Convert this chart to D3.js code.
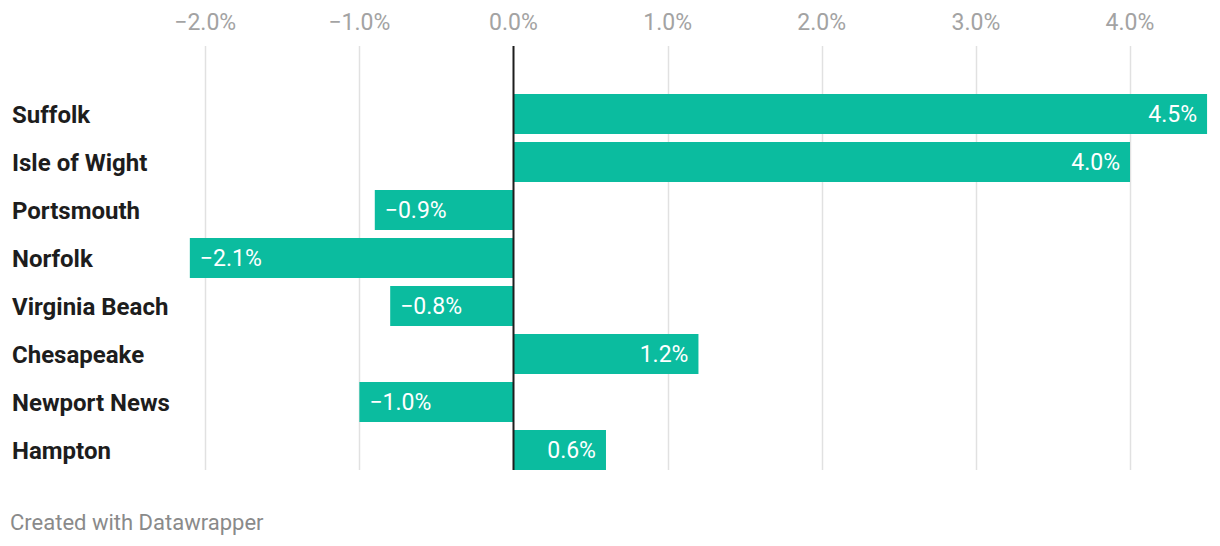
<!DOCTYPE html>
<html>
<head>
<meta charset="utf-8">
<script src="https://cdn.jsdelivr.net/npm/d3@7"></script>
<style>
  html, body { margin: 0; padding: 0; background: #fff; }
  svg { display: block; font-family: Roboto, "Noto Sans", sans-serif; }
</style>
</head>
<body>
<svg id="chart" width="1220" height="546"></svg>
<script>
const categories = ["Suffolk", "Isle of Wight", "Portsmouth", "Norfolk", "Virginia Beach", "Chesapeake", "Newport News", "Hampton"];
const values = [4.5, 4.0, -0.9, -2.1, -0.8, 1.2, -1.0, 0.6];
const tickValues = [-2, -1, 0, 1, 2, 3, 4];
const footer = "Created with Datawrapper";

const svg = d3.select("#chart");
const x = d3.scaleLinear().domain([0, 4]).range([513.5, 1130]);
const y = d3.scaleBand().domain(categories).range([90, 474]).paddingInner(1/6).paddingOuter(1/12);
const fmt = v => (v < 0 ? "\u2212" : "") + Math.abs(v).toFixed(1) + "%";

const gridTop = 46, gridBottom = 470;

// gridlines
svg.append("g").selectAll("line").data(tickValues.filter(t => t !== 0)).join("line")
  .attr("x1", d => Math.round(x(d)) + 0.5).attr("x2", d => Math.round(x(d)) + 0.5)
  .attr("y1", gridTop).attr("y2", gridBottom)
  .attr("stroke", "#e1e1e1").attr("stroke-width", 1.5);

// tick labels
svg.append("g").selectAll("text").data(tickValues).join("text")
  .attr("x", d => x(d)).attr("y", 30)
  .attr("text-anchor", "middle")
  .attr("fill", "#a3a3a3").attr("font-size", 23)
  .text(d => fmt(d));

// bars
svg.append("g").selectAll("rect").data(categories).join("rect")
  .attr("x", (d, i) => Math.min(x(0), x(values[i])))
  .attr("width", (d, i) => Math.abs(x(values[i]) - x(0)))
  .attr("y", d => y(d)).attr("height", y.bandwidth())
  .attr("fill", "#0bbc9f");

// value labels
svg.append("g").selectAll("text").data(categories).join("text")
  .attr("x", (d, i) => values[i] >= 0 ? x(values[i]) - 10 : x(values[i]) + 10)
  .attr("y", d => y(d) + y.bandwidth() / 2 + 8)
  .attr("text-anchor", (d, i) => values[i] >= 0 ? "end" : "start")
  .attr("fill", "#ffffff").attr("font-size", 23)
  .text((d, i) => fmt(values[i]));

// zero line
svg.append("line")
  .attr("x1", x(0)).attr("x2", x(0))
  .attr("y1", gridTop).attr("y2", gridBottom)
  .attr("stroke", "#1d1d1d").attr("stroke-width", 2);

// category labels
svg.append("g").selectAll("text").data(categories).join("text")
  .attr("x", 12)
  .attr("y", d => y(d) + y.bandwidth() / 2 + 8.5)
  .attr("fill", "#1d1d1d").attr("font-size", 24).attr("font-weight", 700)
  .text(d => d);

// footer
svg.append("text")
  .attr("x", 10).attr("y", 530)
  .attr("fill", "#8a8a8a").attr("font-size", 22)
  .text(footer);
</script>
</body>
</html>
